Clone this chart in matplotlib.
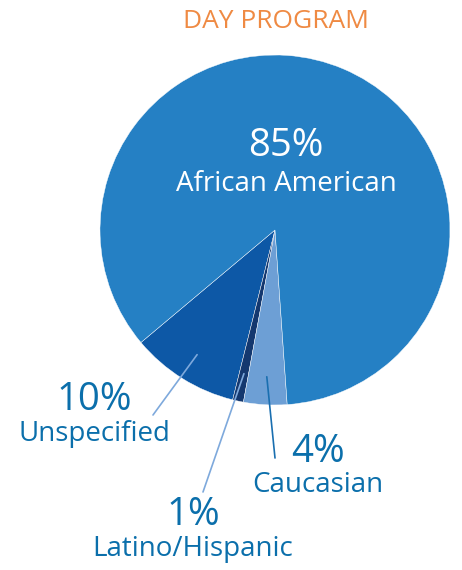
import numpy as np
import matplotlib
matplotlib.use('Agg')
import matplotlib.pyplot as plt

# data
groups = ['African American', 'Caucasian', 'Latino/Hispanic', 'Unspecified']
shares = [85, 4, 1, 10]
colors = ['#2580c4', '#6d9fd5', '#14386f', '#0d58a6']
title = 'DAY PROGRAM'

plt.rcParams['font.family'] = ['Open Sans', 'DejaVu Sans']

fig = plt.figure(figsize=(4.62, 5.70), dpi=100)
ax = fig.add_axes([0, 0, 1, 1])

cx, cy, R = 275, 340, 175

# counterclockwise order starting at Unspecified
order = [3, 2, 1, 0]
vals = [shares[i] for i in order]
cols = [colors[i] for i in order]
wedges, _ = ax.pie(vals, colors=cols, startangle=-140, counterclock=True,
                   center=(cx, cy), radius=R, frame=True,
                   wedgeprops=dict(edgecolor='white', linewidth=0.3))
ax.set_xlim(0, 462)
ax.set_ylim(0, 570)
ax.set_aspect('equal')
ax.axis('off')

def mid(w, f=0.84):
    a = np.deg2rad((w.theta1 + w.theta2) / 2)
    return cx + f * R * np.cos(a), cy + f * R * np.sin(a)

lab = '#0b6fab'
big, small = 27.5, 20
# center label
ax.text(286, 570 - 146, '85%', color='white', fontsize=big, ha='center', va='center')
ax.text(286, 570 - 184, groups[0], color='white', fontsize=small, ha='center', va='center')

ax.text(276, 570 - 21, title, color='#ef8a43', fontsize=19, ha='center', va='center')

# outside labels with leader lines
w_uns, w_lat, w_cau = wedges[0], wedges[1], wedges[2]
ax.annotate('', xy=mid(w_uns), xytext=(153, 570 - 415),
            arrowprops=dict(arrowstyle='-', color='#7ea9dc', lw=1.2, shrinkA=0, shrinkB=0))
ax.annotate('', xy=mid(w_lat), xytext=(203, 570 - 492),
            arrowprops=dict(arrowstyle='-', color='#7ea9dc', lw=1.2, shrinkA=0, shrinkB=0))
ax.annotate('', xy=mid(w_cau), xytext=(275, 570 - 458),
            arrowprops=dict(arrowstyle='-', color='#1a6fb0', lw=1.2, shrinkA=0, shrinkB=0))

ax.text(94, 570 - 400, '%d%%' % shares[3], color=lab, fontsize=big, ha='center', va='center')
ax.text(94, 570 - 434, groups[3], color=lab, fontsize=small, ha='center', va='center')
ax.text(318, 570 - 452, '%d%%' % shares[1], color=lab, fontsize=big, ha='center', va='center')
ax.text(318, 570 - 485, groups[1], color=lab, fontsize=small, ha='center', va='center')
ax.text(193, 570 - 515, '%d%%' % shares[2], color=lab, fontsize=big, ha='center', va='center')
ax.text(193, 570 - 549, groups[2], color=lab, fontsize=small, ha='center', va='center')

fig.savefig('out.png', dpi=100)
